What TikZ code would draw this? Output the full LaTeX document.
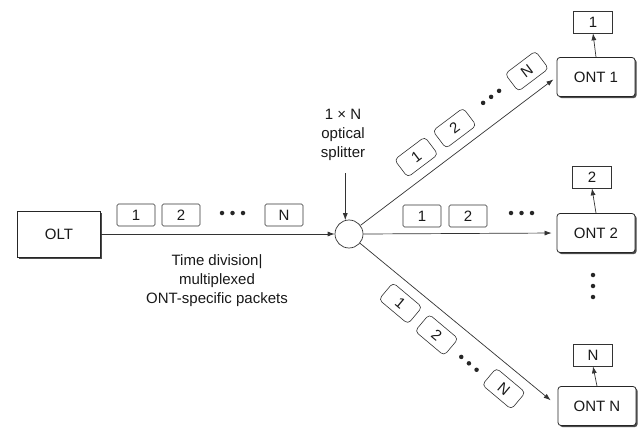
\documentclass[tikz,border=0pt]{standalone}
\usepackage{fontspec}
\setmainfont{Liberation Sans}
\usetikzlibrary{arrows.meta,shadows}
\begin{document}
\begin{tikzpicture}[x=1pt,y=-1pt,
  every node/.style={font=\fontsize{15}{19}\selectfont, text=black!90},
  ln/.style={draw=black!80, line width=0.7pt},
  arr/.style={ln, -{Latex[length=7pt,width=5pt]}},
  bigbox/.style={draw=black!85, line width=0.8pt, fill=white, minimum width=83pt, minimum height=46pt,
     drop shadow={shadow xshift=1.6pt, shadow yshift=-1.6pt, fill=black!70, opacity=1}},
  ontbox/.style={draw=black!85, line width=0.8pt, fill=white, rounded corners=3pt, minimum width=78pt, minimum height=39pt,
     drop shadow={shadow xshift=1.6pt, shadow yshift=-1.6pt, fill=black!70, opacity=1}},
  pkt/.style={draw=black!80, line width=0.6pt, rounded corners=1.5pt, minimum width=38pt, minimum height=22pt, inner sep=0pt},
  dpkt/.style={pkt, rounded corners=4pt, transform shape},
  outbox/.style={draw=black!80, line width=0.6pt, minimum width=39pt, minimum height=22pt, inner sep=0pt},
  dot/.style={circle, fill=black!85, inner sep=0pt, minimum size=4.5pt},
  lbl/.style={align=center}
]
\useasboundingbox (0,0) rectangle (643,428);
\fill[white] (0,0) rectangle (643,428);

% main nodes
\node[bigbox] (olt) at (59,234) {OLT};
\node[circle, draw=black!80, line width=0.7pt, minimum size=28pt, inner sep=0pt] (spl) at (349,234) {};
\node[ontbox] (ont1) at (596,77) {ONT 1};
\node[ontbox] (ont2) at (596,233) {ONT 2};
\node[ontbox] (ontn) at (597,406) {ONT N};

% output boxes
\node[outbox] (o1) at (593,22) {1};
\node[outbox] (o2) at (592,177) {2};
\node[outbox] (on) at (593,355) {N};
\draw[arr] (ont1.north) -- (o1.south);
\draw[arr] (ont2.north) -- (o2.south);
\draw[arr] (ontn.north) -- (on.south);

% connectors
\draw[arr] (olt.east) -- (spl.west);
\draw[arr, shorten >=5pt] (spl.east) -- (ont2.west);
\draw[arr, shorten >=4pt] (spl.37) -- (ont1.west);
\draw[arr, shorten >=9pt] (spl.-40) -- (ontn.west);

% splitter label
\node[lbl] (splab) at (343,135) {1 × N\\optical\\splitter};
\coordinate (splarr) at (341,173);
\draw[arr] (spl.105 |- splarr) -- (spl.105);

% text under main line
\node[lbl] (tdm) at (217,281) {Time division|\\multiplexed\\ONT-specific packets};

% packets on main line
\node[pkt] (m1) at (136,215) {1};
\node[pkt] (m2) at (181,215) {2};
\node[dot] (md1) at (222,213) {};
\node[dot] (md2) at (232.5,213) {};
\node[dot] (md3) at (243,213) {};
\node[pkt] (mn) at (284,215) {N};

% packets on middle branch
\node[pkt] (c1) at (422,216) {1};
\node[pkt] (c2) at (468,216) {2};
\node[dot] (cd1) at (511,213) {};
\node[dot] (cd2) at (521.5,213) {};
\node[dot] (cd3) at (532,213) {};

% packets on top branch
\begin{scope}[shift={(349,234)}, rotate=37]
  \node[dpkt] (t1) at (100,-21) {1};
  \node[dpkt] (t2) at (148,-21) {2};
  \node[dot] (td1) at (186,-24) {};
  \node[dot] (td2) at (196,-24) {};
  \node[dot] (td3) at (206,-24) {};
  \node[dpkt] (tn) at (240,-23) {N};
\end{scope}

% packets on bottom branch
\begin{scope}[shift={(349,234)}, rotate=-40]
  \node[dpkt] (b1) at (84,20) {1};
  \node[dpkt] (b2) at (132,21) {2};
  \node[dot] (bd1) at (165,22) {};
  \node[dot] (bd2) at (175,22) {};
  \node[dot] (bd3) at (185,22) {};
  \node[dpkt] (bn) at (218,19) {N};
\end{scope}

% vertical dots
\node[dot] (v1) at (593,275) {};
\node[dot] (v2) at (593,286) {};
\node[dot] (v3) at (593,297) {};
\end{tikzpicture}
\end{document}
